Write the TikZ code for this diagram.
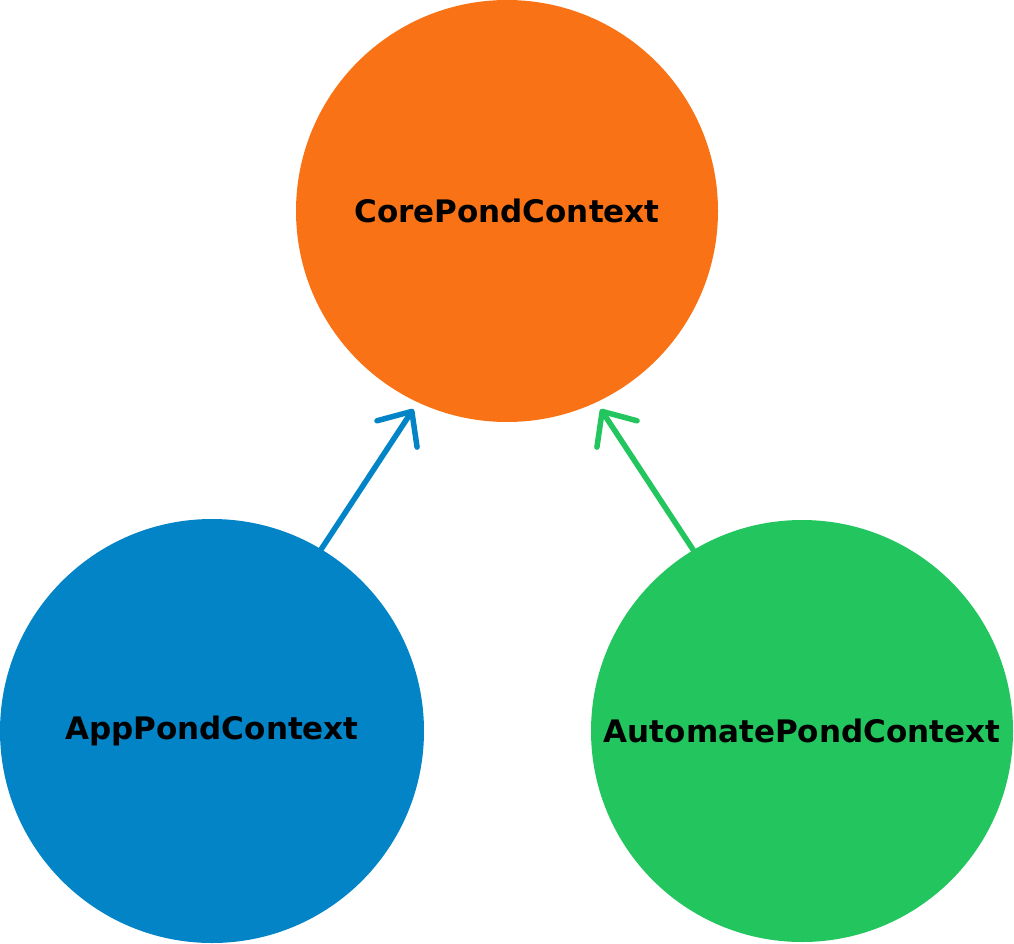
\documentclass[tikz,border=0pt]{standalone}
\usepackage{fontspec}
\setmainfont{DejaVu Sans}
\usetikzlibrary{arrows.meta}
\definecolor{coreC}{HTML}{F97316}
\definecolor{appC}{HTML}{0284C7}
\definecolor{autoC}{HTML}{22C55E}
\tikzset{
  ctx/.style={circle, inner sep=0pt, minimum size=#1, font=\fontsize{31}{36}\selectfont\bfseries, text=black},
  link/.style={line width=5.5pt, line cap=round, shorten >=8pt,
    -{Straight Barb[length=27pt,width=48pt,round]}}
}
\begin{document}
\begin{tikzpicture}[x=1pt,y=-1pt]
\useasboundingbox (0,0) rectangle (1014,944);
\node[ctx=422pt, fill=coreC] (core) at (507,211) {CorePondContext};
\node[ctx=424pt, fill=appC] (app) at (212,731) {AppPondContext};
\node[ctx=422pt, fill=autoC] (auto) at (802,731) {AutomatePondContext};
\draw[link, appC] (app.59) -- (core.245);
\draw[link, autoC] (auto.121) -- (core.295);
\end{tikzpicture}
\end{document}
